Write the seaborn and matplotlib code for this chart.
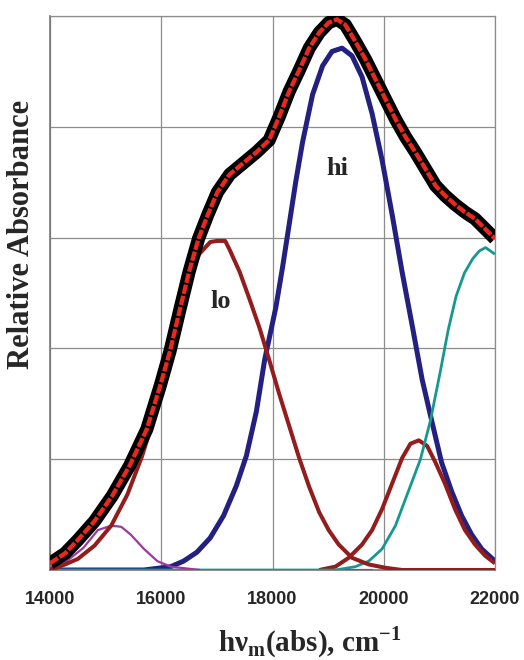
import matplotlib
matplotlib.use("Agg")
import matplotlib.pyplot as plt
import seaborn as sns
import pandas as pd

# ---- data ----
data_x = [14000, 14270, 14500, 14800, 15120, 15430, 15740, 15980, 16160, 16330, 16500,
          16670, 16840, 17010, 17230, 17470, 17710, 17940, 18120, 18300, 18480, 18660,
          18840, 19010, 19160, 19310, 19490, 19670, 19850, 20030, 20210, 20390, 20570,
          20750, 20930, 21100, 21280, 21460, 21640, 21820, 22000]
data_y = [0.06, 0.15, 0.27, 0.44, 0.67, 0.94, 1.27, 1.66, 1.98, 2.34, 2.69,
          2.99, 3.21, 3.41, 3.57, 3.67, 3.77, 3.88, 4.09, 4.32, 4.51, 4.71,
          4.85, 4.94, 4.97, 4.92, 4.77, 4.61, 4.43, 4.25, 4.07, 3.91, 3.77,
          3.62, 3.47, 3.38, 3.30, 3.23, 3.17, 3.08, 2.99]

hi_x = [14000, 15690, 16170, 16400, 16640, 16880, 17120, 17350, 17530, 17710, 17860,
        18060, 18180, 18300, 18420, 18540, 18720, 18900, 19070, 19250, 19430, 19610,
        19790, 19970, 20150, 20330, 20510, 20690, 20870, 21040, 21220, 21400, 21580,
        21760, 22000]
hi_y = [0.0, 0.0, 0.03, 0.08, 0.16, 0.29, 0.49, 0.76, 1.03, 1.43, 1.90,
        2.37, 2.73, 3.12, 3.51, 3.86, 4.29, 4.55, 4.68, 4.71, 4.64, 4.45,
        4.12, 3.70, 3.21, 2.69, 2.21, 1.72, 1.33, 0.97, 0.71, 0.49, 0.32,
        0.19, 0.08]

lo_x = [14000, 14270, 14500, 14800, 15100, 15390, 15650, 15850, 16160, 16330, 16500,
        16680, 16880, 17000, 17150, 17230, 17410, 17590, 17770, 17950, 18120, 18300,
        18480, 18660, 18840, 19010, 19190, 19430, 19730, 20030, 20330, 22000]
lo_y = [0.0, 0.05, 0.10, 0.22, 0.40, 0.68, 1.02, 1.34, 1.93, 2.30, 2.62,
        2.85, 2.96, 2.97, 2.97, 2.89, 2.69, 2.44, 2.18, 1.88, 1.59, 1.30,
        1.01, 0.75, 0.52, 0.36, 0.23, 0.11, 0.05, 0.02, 0.0, 0.0]

mid_x = [18840, 19130, 19370, 19610, 19790, 19970, 20150, 20330, 20480, 20630, 20780,
         20930, 21100, 21280, 21460, 21640, 21820, 22000]
mid_y = [0.0, 0.03, 0.11, 0.23, 0.36, 0.55, 0.78, 1.01, 1.14, 1.17, 1.12,
         0.97, 0.78, 0.55, 0.36, 0.23, 0.13, 0.06]

teal_x = [14000, 19130, 19490, 19730, 19970, 20210, 20450, 20660, 20840, 21020, 21160,
          21300, 21450, 21600, 21720, 21830, 22000]
teal_y = [0.0, 0.0, 0.03, 0.08, 0.19, 0.40, 0.72, 1.00, 1.35, 1.80, 2.17,
          2.47, 2.68, 2.81, 2.88, 2.91, 2.85]

purple_x = [14000, 14300, 14600, 14860, 15100, 15280, 15450, 15690, 15930, 16170, 16700]
purple_y = [0.02, 0.08, 0.20, 0.36, 0.40, 0.39, 0.32, 0.19, 0.08, 0.03, 0.0]

purple2_x = [19300, 19800]
purple2_y = [0.0, 0.0]

x_ticks = [14000, 16000, 18000, 20000, 22000]
x_tick_labels = ["14000", "16000", "18000", "20000", "22000"]

sns.set_style("white")
plt.rcParams["font.family"] = ["Liberation Sans", "DejaVu Sans"]

fig = plt.figure(figsize=(5.24, 6.6), dpi=100)
ax = fig.add_axes([50 / 524, 1 - 570 / 660, 445 / 524, 554 / 660])

def draw(xs, ys, color, lw, z, **kw):
    df = pd.DataFrame({"x": xs, "y": ys})
    sns.lineplot(data=df, x="x", y="y", ax=ax, color=color, lw=lw, sort=False,
                 estimator=None, zorder=z, solid_joinstyle="round",
                 solid_capstyle="butt", **kw)

draw(hi_x, hi_y, "#23207f", 3.6, 3)
draw(mid_x, mid_y, "#931c1c", 2.9, 4)
draw(teal_x, teal_y, "#17988f", 2.0, 5)
draw(purple_x, purple_y, "#9a3a9e", 1.6, 5)
draw(purple2_x, purple2_y, "#9a3a9e", 1.6, 5)
draw(lo_x, lo_y, "#931c1c", 2.9, 6)
draw(data_x, data_y, "#000000", 9.5, 7)
df_fit = pd.DataFrame({"x": data_x, "y": data_y})
sns.lineplot(data=df_fit, x="x", y="y", ax=ax, color="#e8291c", lw=3.1, sort=False,
             estimator=None, zorder=8, linestyle=(0, (2.2, 0.45)),
             dash_joinstyle="round")

ax.set_xlim(14000, 22000)
ax.set_ylim(0, 5)
ax.set_xticks(x_ticks)
ax.set_xticklabels(x_tick_labels, fontsize=13, fontweight="bold")
ax.set_yticks([0, 1, 2, 3, 4, 5])
ax.set_yticklabels([])
ax.tick_params(axis="both", length=0, pad=15)
ax.grid(True, color="#8c8c8c", lw=0.9)
ax.set_axisbelow(True)
for s in ["top", "right"]:
    ax.spines[s].set_color("#8c8c8c")
    ax.spines[s].set_linewidth(0.9)
for s in ["left", "bottom"]:
    ax.spines[s].set_color("#777777")
    ax.spines[s].set_linewidth(1.2)
ax.set_xlabel("")
ax.set_ylabel("")

serif = ["Liberation Serif", "DejaVu Serif"]
ax.text(19160, 3.62, "hi", fontsize=19, fontweight="bold", family=serif,
        ha="center", va="center", zorder=10)
ax.text(17060, 2.42, "lo", fontsize=19, fontweight="bold", family=serif,
        ha="center", va="center", zorder=10)

fig.text(22 / 524, 1 - 234 / 660, "Relative Absorbance", rotation=90, fontsize=22,
         fontweight="bold", family=serif, ha="center", va="center")
fig.text(310 / 524, 1 - 651 / 660, "hν$_\\mathregular{m}$(abs), cm$^\\mathregular{-1}$",
         fontsize=21, fontweight="bold", family=serif, ha="center", va="baseline")

fig.savefig("out.png", dpi=100, facecolor="white")
